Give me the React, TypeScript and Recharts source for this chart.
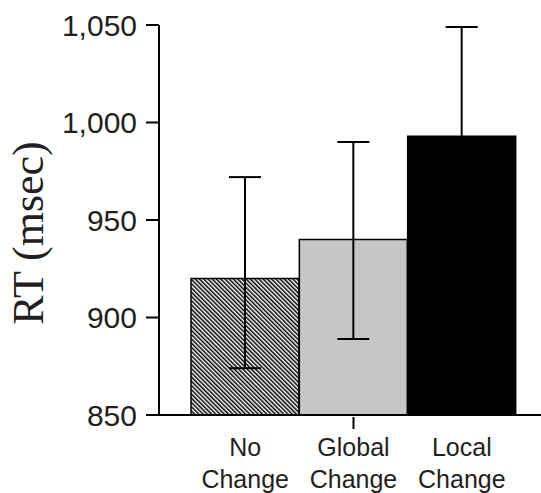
import { Bar, BarChart, Cell, ErrorBar, XAxis, YAxis } from "recharts";

const conditions = ["No|Change", "Global|Change", "Local|Change"];
const rtMeans = [920, 940, 993];
// [below, above] error extents, msec
const rtErrors: [number, number][] = [
  [46, 52],
  [51, 50],
  [56, 56],
];
const yTicks = [850, 900, 950, 1000, 1050];

const fills = ["url(#hatch)", "#c6c6c6", "#000000"];

const data = conditions.map((c, i) => ({ cond: c, rt: rtMeans[i], err: rtErrors[i] }));

const sans = "'Liberation Sans', Arial, sans-serif";

// only the middle category gets a tick mark in the original figure
function XTick(props: any) {
  const { x, y, payload } = props;
  const [l1, l2] = String(payload.value).split("|");
  return (
    <g>
      {payload.value === conditions[1] && (
        <line x1={x} x2={x} y1={y} y2={y + 12} stroke="#000" strokeWidth={2} />
      )}
      <text x={x} y={y + 39} textAnchor="middle" fontSize={25} fontFamily={sans} fill="#231f20">
        {l1}
      </text>
      <text x={x} y={y + 71} textAnchor="middle" fontSize={25} fontFamily={sans} fill="#231f20">
        {l2}
      </text>
    </g>
  );
}

function YLabel() {
  return (
    <text
      x={43}
      y={233}
      transform="rotate(-90 43 233)"
      textAnchor="middle"
      fontSize={44}
      fontFamily="'Liberation Serif', 'Times New Roman', serif"
      fill="#231f20"
    >
      RT (msec)
    </text>
  );
}

export default function App() {
  return (
    <div style={{ position: "fixed", left: 0, top: 0, width: 541, height: 493, background: "#fff" }}>
      <BarChart
        width={541}
        height={493}
        data={data}
        margin={{ top: 25, right: 0, bottom: 0, left: 0 }}
        barCategoryGap={0}
      >
        <defs>
          <pattern id="hatch" patternUnits="userSpaceOnUse" width={3} height={3} patternTransform="rotate(-45)">
            <rect width={3} height={3} fill="#fff" />
            <rect width={1.5} height={3} fill="#000" />
          </pattern>
        </defs>
        <XAxis
          dataKey="cond"
          height={78}
          padding={{ left: 32, right: 25 }}
          axisLine={{ stroke: "#000", strokeWidth: 2 }}
          tickLine={false}
          tickSize={0}
          tick={<XTick />}
          interval={0}
        />
        <YAxis
          width={159}
          domain={[850, 1050]}
          ticks={yTicks}
          allowDataOverflow
          axisLine={{ stroke: "#000", strokeWidth: 2 }}
          tickLine={{ stroke: "#000", strokeWidth: 2 }}
          tickSize={13}
          tickMargin={9}
          tickFormatter={(v) => Number(v).toLocaleString("en-US")}
          tick={{ fill: "#231f20", fontSize: 30, fontFamily: sans }}
          label={<YLabel />}
        />
        <Bar dataKey="rt" isAnimationActive={false} stroke="#000" strokeWidth={1.5}>
          {data.map((d, i) => (
            <Cell key={d.cond} fill={fills[i]} />
          ))}
          <ErrorBar dataKey="err" width={16} stroke="#000" strokeWidth={2} isAnimationActive={false} />
        </Bar>
      </BarChart>
    </div>
  );
}
